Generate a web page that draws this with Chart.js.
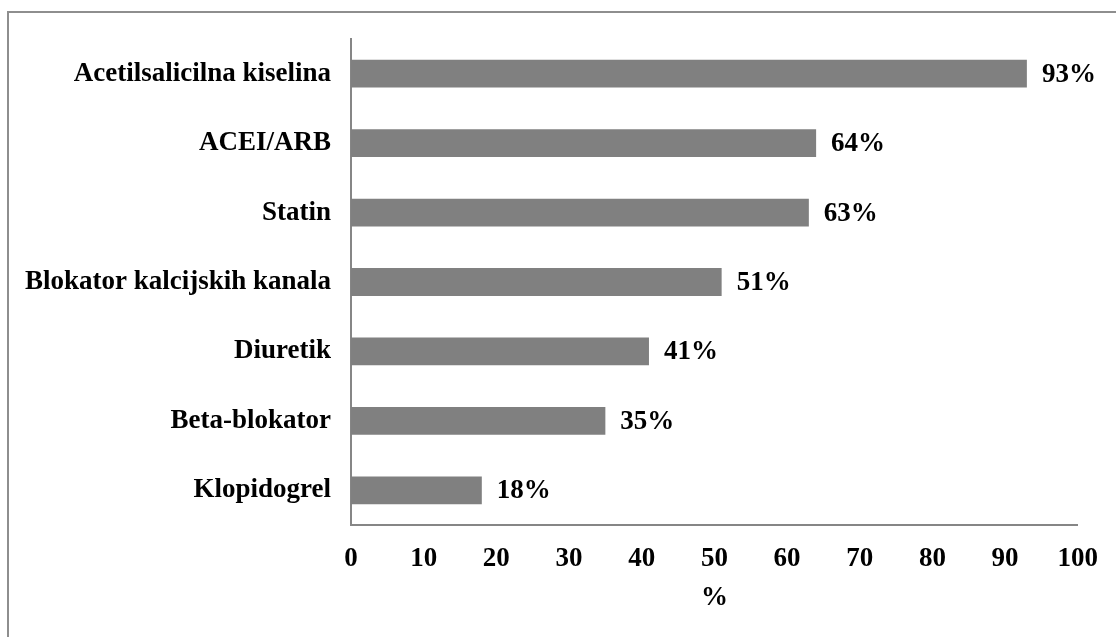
<!DOCTYPE html>
<html>
<head>
<meta charset="utf-8">
<script src="https://cdn.jsdelivr.net/npm/chart.js@4/dist/chart.umd.min.js"></script>
<style>
    body { margin: 0; background: #fff; overflow: hidden; }
    #wrap { position: relative; width: 1116px; height: 637px; }
    #frame {
        position: absolute; left: 7px; top: 11px; width: 1300px; height: 800px;
        border: 2px solid #8e8e8e; box-sizing: border-box;
    }
    canvas { position: absolute; left: 0; top: 0; }
</style>
</head>
<body>
<div id="wrap">
    <div id="frame"></div>
    <canvas id="chart" width="1116" height="637"></canvas>
</div>
<script>
// Drug usage share (%)
const categories = [
    'Acetilsalicilna kiselina',
    'ACEI/ARB',
    'Statin',
    'Blokator kalcijskih kanala',
    'Diuretik',
    'Beta-blokator',
    'Klopidogrel'
];
const values = [93, 64, 63, 51, 41, 35, 18];
const xTicks = [0, 10, 20, 30, 40, 50, 60, 70, 80, 90, 100];

const font = { family: '"Liberation Serif", "Times New Roman", serif', size: 27, weight: 'bold' };

// draw "NN%" right of each bar
const valueLabels = {
    id: 'valueLabels',
    afterDatasetsDraw(chart) {
        const ctx = chart.ctx;
        const meta = chart.getDatasetMeta(0);
        ctx.save();
        ctx.font = `bold ${font.size}px ${font.family}`;
        ctx.fillStyle = '#000';
        ctx.textAlign = 'left';
        ctx.textBaseline = 'middle';
        meta.data.forEach((bar, i) => {
            ctx.fillText(values[i] + '%', bar.x + 15, bar.y + 1);
        });
        ctx.restore();
    }
};

new Chart(document.getElementById('chart'), {
    type: 'bar',
    data: {
        labels: categories,
        datasets: [{
            data: values,
            backgroundColor: '#808080',
            borderWidth: 0,
            barPercentage: 0.4,
            categoryPercentage: 1
        }]
    },
    options: {
        indexAxis: 'y',
        responsive: false,
        animation: false,
        layout: { padding: { top: 39, right: 38, left: 0, bottom: 0 } },
        plugins: {
            legend: { display: false },
            tooltip: { enabled: false }
        },
        scales: {
            x: {
                min: 0,
                max: 100,
                afterBuildTicks: (scale) => { scale.ticks = xTicks.map(v => ({ value: v })); },
                afterFit: (scale) => { scale.height = 112; },
                grid: { display: false, drawTicks: false },
                border: { display: true, color: '#868686', width: 2 },
                ticks: { color: '#000', font: font, padding: 18, maxRotation: 0 },
                title: { display: true, text: '%', color: '#000', font: font, padding: { top: 0, bottom: 23 } }
            },
            y: {
                afterFit: (scale) => { scale.width = 351; },
                grid: { display: false, drawTicks: false },
                border: { display: true, color: '#868686', width: 2 },
                ticks: { color: '#000', font: font, padding: 20 }
            }
        }
    },
    plugins: [valueLabels]
});
</script>
</body>
</html>
